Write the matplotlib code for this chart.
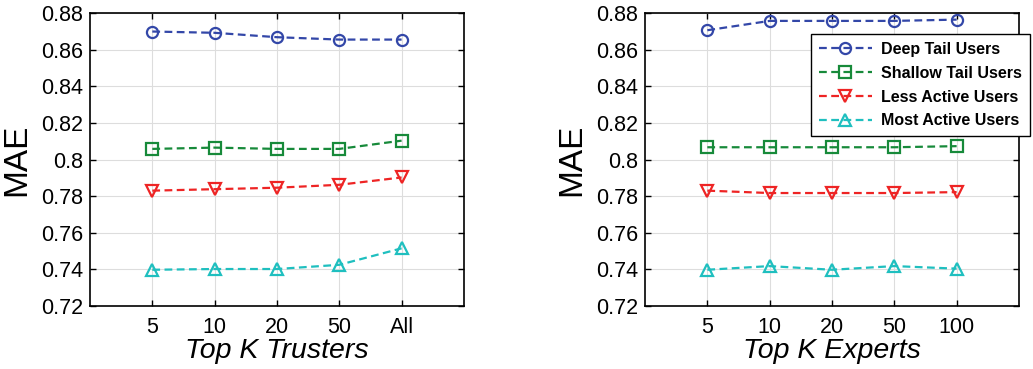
import numpy as np
import matplotlib
matplotlib.use("Agg")
import matplotlib.pyplot as plt

plt.rcParams['font.family'] = ['Liberation Sans', 'DejaVu Sans']

# ==== DATA ====
labels_left = ["5", "10", "20", "50", "All"]
labels_right = ["5", "10", "20", "50", "100"]
series_names = ["Deep Tail Users", "Shallow Tail Users", "Less Active Users", "Most Active Users"]

trusters_deep = [0.8699, 0.8692, 0.8668, 0.8655, 0.8655]
trusters_shallow = [0.8058, 0.8065, 0.8058, 0.8058, 0.8103]
trusters_less = [0.7830, 0.7838, 0.7846, 0.7862, 0.7902]
trusters_most = [0.7398, 0.7402, 0.7402, 0.7425, 0.7515]

experts_deep = [0.8706, 0.8757, 0.8757, 0.8757, 0.8764]
experts_shallow = [0.8067, 0.8067, 0.8067, 0.8067, 0.8073]
experts_less = [0.7830, 0.7817, 0.7817, 0.7817, 0.7822]
experts_most = [0.7398, 0.7418, 0.7398, 0.7418, 0.7404]
# ==============

colors = ["#3347a8", "#178a3a", "#ee2424", "#1fbfbf"]
markers = ["o", "s", "v", "^"]

fig = plt.figure(figsize=(10.33, 3.69), dpi=100)
ax1 = fig.add_axes([0.0871, 0.1707, 0.362, 0.794])
ax2 = fig.add_axes([0.6244, 0.1707, 0.362, 0.794])


def draw(ax, data, labels, xlabel):
    x = np.arange(1, len(labels) + 1)
    for vals, c, m, name in zip(data, colors, markers, series_names):
        ax.plot(x, vals, linestyle=(0, (3.5, 2)), color=c, lw=1.6, marker=m,
                markersize=8, markerfacecolor="none", markeredgewidth=1.6,
                label=name)
    ax.set_xlim(0, 6)
    ax.set_ylim(0.72, 0.88)
    ax.set_xticks(x)
    ax.set_xticklabels(labels)
    ax.set_yticks(np.arange(0.72, 0.8801, 0.02))
    ax.set_yticklabels(["0.72", "0.74", "0.76", "0.78", "0.8", "0.82", "0.84", "0.86", "0.88"])
    ax.tick_params(direction="in", top=True, right=True, labelsize=15.5, length=4, width=1)
    ax.tick_params(axis="y", pad=5)
    ax.tick_params(axis="x", pad=8)
    ax.grid(True, color="#dddddd", lw=0.8)
    ax.set_axisbelow(True)
    for s in ax.spines.values():
        s.set_linewidth(1.2)
    ax.set_ylabel("MAE", fontsize=24, labelpad=6)
    ax.set_xlabel(xlabel, fontsize=20.5, style="italic", labelpad=0)


draw(ax1, [trusters_deep, trusters_shallow, trusters_less, trusters_most], labels_left, "Top K Trusters")
draw(ax2, [experts_deep, experts_shallow, experts_less, experts_most], labels_right, "Top K Experts")

leg = ax2.legend(loc="upper right", bbox_to_anchor=(1030 / 1033, 1 - 34 / 369),
                 bbox_transform=fig.transFigure, borderaxespad=0, fancybox=False,
                 framealpha=1, edgecolor="black", handlelength=3.3,
                 prop={"weight": "bold", "size": 11.5}, labelspacing=0.55,
                 borderpad=0.5, handletextpad=0.6)
leg.get_frame().set_linewidth(1.0)

fig.savefig("out.png", dpi=100)
